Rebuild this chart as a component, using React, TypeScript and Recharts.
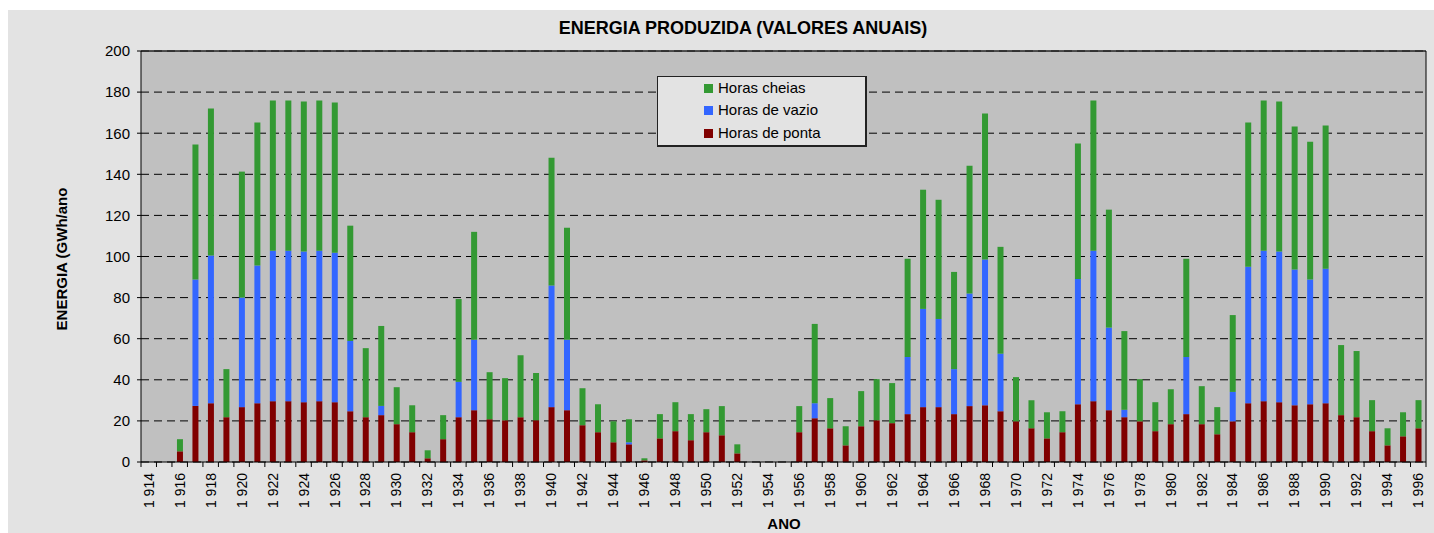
import React from 'react';
import { BarChart, Bar, XAxis, YAxis, CartesianGrid, Legend } from 'recharts';

const years = [
  1914, 1915, 1916, 1917, 1918, 1919, 1920, 1921, 1922, 1923, 1924, 1925, 1926, 1927, 1928, 1929, 1930,
  1931, 1932, 1933, 1934, 1935, 1936, 1937, 1938, 1939, 1940, 1941, 1942, 1943, 1944, 1945, 1946, 1947,
  1948, 1949, 1950, 1951, 1952, 1953, 1954, 1955, 1956, 1957, 1958, 1959, 1960, 1961, 1962, 1963, 1964,
  1965, 1966, 1967, 1968, 1969, 1970, 1971, 1972, 1973, 1974, 1975, 1976, 1977, 1978, 1979, 1980, 1981,
  1982, 1983, 1984, 1985, 1986, 1987, 1988, 1989, 1990, 1991, 1992, 1993, 1994, 1995, 1996,
];

// Horas de ponta (bottom segment)
const ponta = [
  0, 0, 5.2, 27.3, 28.6, 21.8, 26.7, 28.6, 29.6, 29.6, 29.1, 29.6, 29.1, 24.7, 21.8, 22.8, 18.4,
  14.5, 1.8, 11.1, 21.8, 25.2, 20.8, 20.3, 21.8, 20.3, 26.7, 25.2, 17.9, 14.5, 9.6, 8.6, 0.8, 11.5,
  15.0, 10.6, 14.5, 13.0, 4.2, 0, 0, 0, 14.5, 21.3, 16.4, 8.1, 17.4, 20.3, 18.9, 23.3, 26.7,
  26.7, 23.3, 27.2, 27.6, 24.7, 19.8, 16.4, 11.5, 14.5, 28.1, 29.6, 25.2, 21.8, 19.8, 15.0, 18.4, 23.3,
  18.4, 13.5, 19.8, 28.6, 29.6, 29.1, 27.6, 28.1, 28.6, 22.8, 21.8, 15.0, 8.1, 12.5, 16.4,
];

// Horas de vazio (middle segment)
const vazio = [
  0, 0, 0, 61.5, 71.9, 0, 53.3, 67.0, 73.2, 73.2, 73.3, 73.2, 72.7, 34.2, 0, 4.5, 0,
  0, 0, 0, 17.2, 34.3, 0, 0, 0, 0, 59.2, 34.3, 0, 0, 0, 1.0, 0, 0,
  0, 0, 0, 0, 0, 0, 0, 0, 0, 7.3, 0, 0, 0, 0, 0, 27.8, 47.8,
  42.9, 21.9, 54.8, 70.9, 28.0, 0, 0, 0, 0, 61.0, 73.2, 40.2, 3.6, 0, 0, 0, 27.8,
  0, 0, 14.3, 66.4, 73.2, 73.3, 66.1, 60.7, 65.4, 0, 0, 0, 0, 0, 0,
];

// Horas cheias (top segment)
const cheias = [
  0, 0, 5.9, 65.7, 71.5, 23.4, 61.3, 69.6, 73.1, 73.1, 73.0, 73.1, 73.2, 56.1, 33.6, 38.9, 18.0,
  13.1, 3.9, 11.7, 40.3, 52.5, 22.9, 20.5, 30.2, 23.0, 62.2, 54.5, 18.0, 13.6, 10.2, 11.2, 1.0, 11.8,
  14.1, 12.7, 11.2, 14.2, 4.4, 0, 0, 0, 12.7, 38.6, 14.7, 9.3, 17.1, 20.0, 19.5, 47.8, 58.0,
  58.0, 47.3, 62.2, 71.1, 52.0, 21.5, 13.7, 12.7, 10.2, 65.9, 73.1, 57.4, 38.3, 20.5, 14.1, 17.0, 47.8,
  18.5, 13.2, 37.4, 70.2, 73.1, 73.0, 69.6, 67.1, 69.7, 34.1, 32.2, 15.1, 8.3, 11.7, 13.7,
];

const yTicks = [0, 20, 40, 60, 80, 100, 120, 140, 160, 180, 200];
const yMinorTicks = Array.from({ length: 41 }, (_, i) => i * 5);

const seriesNames = { cheias: 'Horas cheias', vazio: 'Horas de vazio', ponta: 'Horas de ponta' };
const colors = { cheias: '#339933', vazio: '#3366FF', ponta: '#800000' };

const data = years.map((year, i) => ({
  year,
  ponta: ponta[i],
  vazio: vazio[i],
  cheias: cheias[i],
}));

const W = 1426;
const H = 523;
const MARGIN = { top: 41, right: 8, bottom: 0, left: 0 };
const Y_AXIS_W = 133;
const X_AXIS_H = 71;
const PLOT_W = W - MARGIN.left - MARGIN.right - Y_AXIS_W;
const BAND = PLOT_W / years.length;
const FONT = '"Liberation Sans", Arial, sans-serif';

const formatYear = (y: number) => {
  const s = String(y);
  return `${s.slice(0, 1)} ${s.slice(1)}`;
};

const XTick = (props: any) => {
  const { x, y, payload, index } = props;
  const half = BAND / 2;
  const yr = Number(payload.value);
  const ty = y + 11;
  return (
    <g>
      <line x1={x - half} x2={x - half} y1={y} y2={y + 5} stroke="#000" strokeWidth={1} />
      {index === years.length - 1 && (
        <line x1={x + half} x2={x + half} y1={y} y2={y + 5} stroke="#000" strokeWidth={1} />
      )}
      {yr % 2 === 0 && (
        <text
          x={x}
          y={ty}
          transform={`rotate(-90, ${x}, ${ty})`}
          textAnchor="end"
          dominantBaseline="central"
          fontSize={14}
          fontFamily={FONT}
          fill="#000"
        >
          {formatYear(yr)}
        </text>
      )}
    </g>
  );
};

const LegendBox = () => {
  const items = ['cheias', 'vazio', 'ponta'] as const;
  const rowY = [11, 33, 56];
  return (
    <div
      style={{
        position: 'relative',
        width: 210,
        height: 71,
        boxSizing: 'border-box',
        background: '#e3e3e3',
        border: '1px solid #222',
        borderRightWidth: 2,
        borderBottomWidth: 2,
        fontFamily: FONT,
        fontSize: 15,
        color: '#000',
      }}
    >
      {items.map((k, i) => (
        <div key={k} style={{ position: 'absolute', left: 46, top: rowY[i] - 10, height: 20, display: 'flex', alignItems: 'center' }}>
          <span style={{ display: 'inline-block', width: 9, height: 9, background: colors[k], marginRight: 5 }} />
          <span style={{ lineHeight: '20px', whiteSpace: 'nowrap' }}>{seriesNames[k]}</span>
        </div>
      ))}
    </div>
  );
};

export default function App() {
  return (
    <div style={{ position: 'absolute', left: 8, top: 10, width: W, height: H, background: '#e3e3e3' }}>
      <BarChart width={W} height={H} data={data} margin={MARGIN} barSize={6}>
        <CartesianGrid vertical={false} stroke="#000" strokeDasharray="8 5" fill="#c0c0c0" />
        <XAxis
          dataKey="year"
          type="category"
          interval={0}
          height={X_AXIS_H}
          tickLine={false}
          tickSize={0}
          tickMargin={0}
          axisLine={{ stroke: '#000' }}
          tick={<XTick />}
        />
        <XAxis
          xAxisId="top"
          dataKey="year"
          orientation="top"
          mirror
          height={1}
          tick={false}
          tickLine={false}
          axisLine={{ stroke: '#222', strokeWidth: 1.5 }}
        />
        <YAxis
          type="number"
          domain={[0, 200]}
          ticks={yTicks}
          interval={0}
          width={Y_AXIS_W}
          tickSize={4}
          tickMargin={7}
          axisLine={{ stroke: '#000' }}
          tickLine={{ stroke: '#000' }}
          tick={{ fontSize: 15, fontFamily: FONT, fill: '#000' }}
        />
        <YAxis
          yAxisId="minor"
          type="number"
          domain={[0, 200]}
          ticks={yMinorTicks}
          interval={0}
          mirror
          width={1}
          tickSize={4}
          tick={false}
          axisLine={false}
          tickLine={{ stroke: '#000' }}
        />
        <YAxis
          yAxisId="right"
          type="number"
          orientation="right"
          domain={[0, 200]}
          mirror
          width={1}
          tick={false}
          tickLine={false}
          axisLine={{ stroke: '#000' }}
        />
        <Legend
          layout="horizontal"
          verticalAlign="middle"
          align="center"
          content={<LegendBox />}
          wrapperStyle={{ position: 'absolute', left: 649, top: 66, width: 210, height: 71 }}
        />
        <Bar dataKey="ponta" name={seriesNames.ponta} stackId="e" fill={colors.ponta} isAnimationActive={false} />
        <Bar dataKey="vazio" name={seriesNames.vazio} stackId="e" fill={colors.vazio} isAnimationActive={false} />
        <Bar dataKey="cheias" name={seriesNames.cheias} stackId="e" fill={colors.cheias} isAnimationActive={false} />
      </BarChart>
      <svg
        width={W}
        height={H}
        style={{ position: 'absolute', left: 0, top: 0, pointerEvents: 'none' }}
      >
        <text x={735} y={18} textAnchor="middle" dominantBaseline="central" fontFamily={FONT} fontWeight="bold" fontSize={18} fill="#000">
          ENERGIA PRODUZIDA (VALORES ANUAIS)
        </text>
        <text
          x={53}
          y={249}
          transform="rotate(-90, 53, 249)"
          textAnchor="middle"
          dominantBaseline="central"
          fontFamily={FONT}
          fontWeight="bold"
          fontSize={15}
          fill="#000"
        >
          ENERGIA (GWh/ano
        </text>
        <text x={776} y={513} textAnchor="middle" dominantBaseline="central" fontFamily={FONT} fontWeight="bold" fontSize={15} fill="#000">
          ANO
        </text>
      </svg>
    </div>
  );
}
